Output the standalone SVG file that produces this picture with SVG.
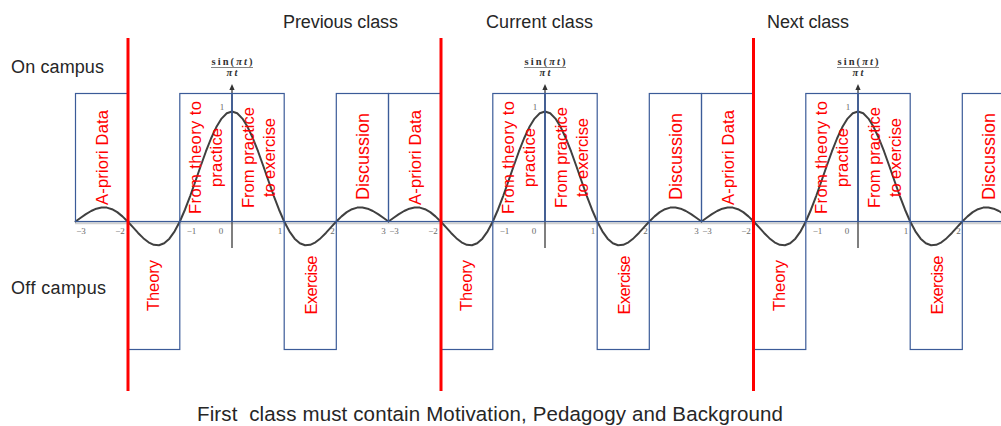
<svg xmlns="http://www.w3.org/2000/svg" xmlns:xlink="http://www.w3.org/1999/xlink" width="1001" height="426" viewBox="0 0 1001 426">
<style>
.bg{fill:#fff}
.box{fill:none;stroke:#3b5b98;stroke-width:1.2}
.lbl{font-family:"Liberation Sans",Arial,sans-serif;font-size:16.5px;fill:#ff0000;text-anchor:middle}
.big{font-size:18px}
.ttl{font-family:"Liberation Sans",Arial,sans-serif;font-size:18px;fill:#262626}
.foot{font-family:"Liberation Sans",Arial,sans-serif;font-size:20.5px;fill:#262626}
.tick{font-family:"Liberation Serif","Times New Roman",serif;font-size:9px;fill:#6a6a6a;text-anchor:middle}
.frac{font-family:"Liberation Serif","Times New Roman",serif;font-size:10.5px;font-weight:bold;fill:#333;text-anchor:middle}
.curve{fill:none;stroke:#404040;stroke-width:2;stroke-linejoin:round;stroke-linecap:round}
.yaxis{stroke:#555;stroke-width:1.5}
.xaxis{stroke:#d0d0d0;stroke-width:2}
.sep{stroke:#ff0000;stroke-width:3}
</style>
<defs>
<path id="half" d="M0,-110 L5.22,-108.2 10.43,-102.9 15.65,-94.42 20.87,-83.25 26.09,-70.03 31.3,-55.5 36.52,-40.47 41.74,-25.73 46.95,-12.02 52.17,0 57.39,9.84 62.6,17.15 67.82,21.79 73.04,23.79 78.26,23.34 83.47,20.81 88.69,16.66 93.91,11.43 99.12,5.69 104.34,0 109.56,-5.15 114.77,-9.35 119.99,-12.32 125.21,-13.88 130.43,-14.01 135.64,-12.81 140.86,-10.49 146.08,-7.35 151.29,-3.73 156.51,0"/>
<g id="plotdeco">
<line class="yaxis" x1="0" y1="88" x2="0" y2="248"/>
<path d="M0,84 L-2.6,90 L2.6,90 Z" fill="#333"/>
<text class="frac" x="0" y="64.5" textLength="41">sin(<tspan font-style="italic">πt</tspan>)</text>
<line x1="-21" y1="67.5" x2="21" y2="67.5" stroke="#666" stroke-width="0.8"/>
<text class="frac" x="0" y="75.5" font-style="italic" textLength="11">πt</text>
<text class="tick" x="-10" y="110">1</text>
<text class="tick" x="-151" y="233.5">−3</text>
<text class="tick" x="-112" y="233.5">−2</text>
<text class="tick" x="-40.5" y="233.5">−1</text>
<text class="tick" x="-11" y="233.5">0</text>
<text class="tick" x="48" y="233.5">1</text>
<text class="tick" x="100.5" y="233.5">2</text>
<text class="tick" x="151.5" y="233.5">3</text>
</g>
</defs>
<rect class="bg" x="0" y="0" width="1001" height="426"/>

<g id="axes">
<line class="xaxis" x1="75" y1="223.2" x2="1001" y2="223.2"/>
<use xlink:href="#plotdeco" transform="translate(232,0)"/>
<use xlink:href="#plotdeco" transform="translate(545,0)"/>
<use xlink:href="#plotdeco" transform="translate(858,0)"/>
</g>

<g id="signal" class="curve">
<use xlink:href="#half" transform="translate(232,221.5)"/>
<use xlink:href="#half" transform="translate(232,221.5) scale(-1,1)"/>
<use xlink:href="#half" transform="translate(545,221.5)"/>
<use xlink:href="#half" transform="translate(545,221.5) scale(-1,1)"/>
<use xlink:href="#half" transform="translate(858,221.5)"/>
<use xlink:href="#half" transform="translate(858,221.5) scale(-1,1)"/>
</g>

<g id="titles">
<text class="ttl" x="11" y="73" textLength="93">On campus</text>
<text class="ttl" x="11" y="294" textLength="95">Off campus</text>
<text class="ttl" x="283" y="28" textLength="115">Previous class</text>
<text class="ttl" x="486" y="28" textLength="107">Current class</text>
<text class="ttl" x="767" y="28" textLength="82">Next class</text>
</g>

<!-- Previous class -->
<g id="prev-apriori"><rect class="box" x="75.5" y="93.5" width="52.2" height="128"/><text class="lbl" transform="translate(101.6,157.5) rotate(-90)" y="6" textLength="95">A-priori Data</text></g>
<g id="prev-theory"><rect class="box" x="127.7" y="221.5" width="52.1" height="128"/><text class="lbl" transform="translate(153.75,285.5) rotate(-90)" y="5.5" textLength="51">Theory</text></g>
<g id="prev-t2p"><rect class="box" x="179.8" y="93.5" width="52.2" height="128"/><text class="lbl" transform="translate(205.9,157.5) rotate(-90)"><tspan x="0" y="-4.5" textLength="113">From theory to</tspan><tspan x="0" y="16" textLength="59">practice</tspan></text></g>
<g id="prev-p2e"><rect class="box" x="232" y="93.5" width="52.2" height="128"/><text class="lbl" transform="translate(258.1,157.5) rotate(-90)"><tspan x="0" y="-4" textLength="101">From practice</tspan><tspan x="0" y="17" textLength="79">to exercise</tspan></text></g>
<g id="prev-exercise"><rect class="box" x="284.2" y="221.5" width="52.1" height="128"/><text class="lbl" transform="translate(310.25,285) rotate(-90)" y="6.5" textLength="59">Exercise</text></g>
<g id="prev-discussion"><rect class="box" x="336.3" y="93.5" width="52.2" height="128"/><text class="lbl big" transform="translate(362.4,156.5) rotate(-90)" y="7" textLength="87">Discussion</text></g>

<!-- Current class -->
<g id="cur-apriori"><rect class="box" x="388.5" y="93.5" width="52.2" height="128"/><text class="lbl" transform="translate(414.6,157.5) rotate(-90)" y="6" textLength="95">A-priori Data</text></g>
<g id="cur-theory"><rect class="box" x="440.7" y="221.5" width="52.1" height="128"/><text class="lbl" transform="translate(466.75,285.5) rotate(-90)" y="5.5" textLength="51">Theory</text></g>
<g id="cur-t2p"><rect class="box" x="492.8" y="93.5" width="52.2" height="128"/><text class="lbl" transform="translate(518.9,157.5) rotate(-90)"><tspan x="0" y="-4.5" textLength="113">From theory to</tspan><tspan x="0" y="16" textLength="59">practice</tspan></text></g>
<g id="cur-p2e"><rect class="box" x="545" y="93.5" width="52.2" height="128"/><text class="lbl" transform="translate(571.1,157.5) rotate(-90)"><tspan x="0" y="-4" textLength="101">From practice</tspan><tspan x="0" y="17" textLength="79">to exercise</tspan></text></g>
<g id="cur-exercise"><rect class="box" x="597.2" y="221.5" width="52.1" height="128"/><text class="lbl" transform="translate(623.25,285) rotate(-90)" y="6.5" textLength="59">Exercise</text></g>
<g id="cur-discussion"><rect class="box" x="649.3" y="93.5" width="52.2" height="128"/><text class="lbl big" transform="translate(675.4,156.5) rotate(-90)" y="7" textLength="87">Discussion</text></g>

<!-- Next class -->
<g id="next-apriori"><rect class="box" x="701.5" y="93.5" width="52.2" height="128"/><text class="lbl" transform="translate(727.6,157.5) rotate(-90)" y="6" textLength="95">A-priori Data</text></g>
<g id="next-theory"><rect class="box" x="753.7" y="221.5" width="52.1" height="128"/><text class="lbl" transform="translate(779.75,285.5) rotate(-90)" y="5.5" textLength="51">Theory</text></g>
<g id="next-t2p"><rect class="box" x="805.8" y="93.5" width="52.2" height="128"/><text class="lbl" transform="translate(831.9,157.5) rotate(-90)"><tspan x="0" y="-4.5" textLength="113">From theory to</tspan><tspan x="0" y="16" textLength="59">practice</tspan></text></g>
<g id="next-p2e"><rect class="box" x="858" y="93.5" width="52.2" height="128"/><text class="lbl" transform="translate(884.1,157.5) rotate(-90)"><tspan x="0" y="-4" textLength="101">From practice</tspan><tspan x="0" y="17" textLength="79">to exercise</tspan></text></g>
<g id="next-exercise"><rect class="box" x="910.2" y="221.5" width="52.1" height="128"/><text class="lbl" transform="translate(936.25,285) rotate(-90)" y="6.5" textLength="59">Exercise</text></g>
<g id="next-discussion"><rect class="box" x="962.3" y="93.5" width="52.2" height="128"/><text class="lbl big" transform="translate(988.4,156.5) rotate(-90)" y="7" textLength="87">Discussion</text></g>

<g id="separators">
<line class="sep" x1="128" y1="38" x2="128" y2="391"/>
<line class="sep" x1="441" y1="38" x2="441" y2="391"/>
<line class="sep" x1="753.5" y1="38" x2="753.5" y2="391"/>
</g>

<text class="foot" x="197" y="421" textLength="586" xml:space="preserve">First  class must contain Motivation, Pedagogy and Background</text>
</svg>
